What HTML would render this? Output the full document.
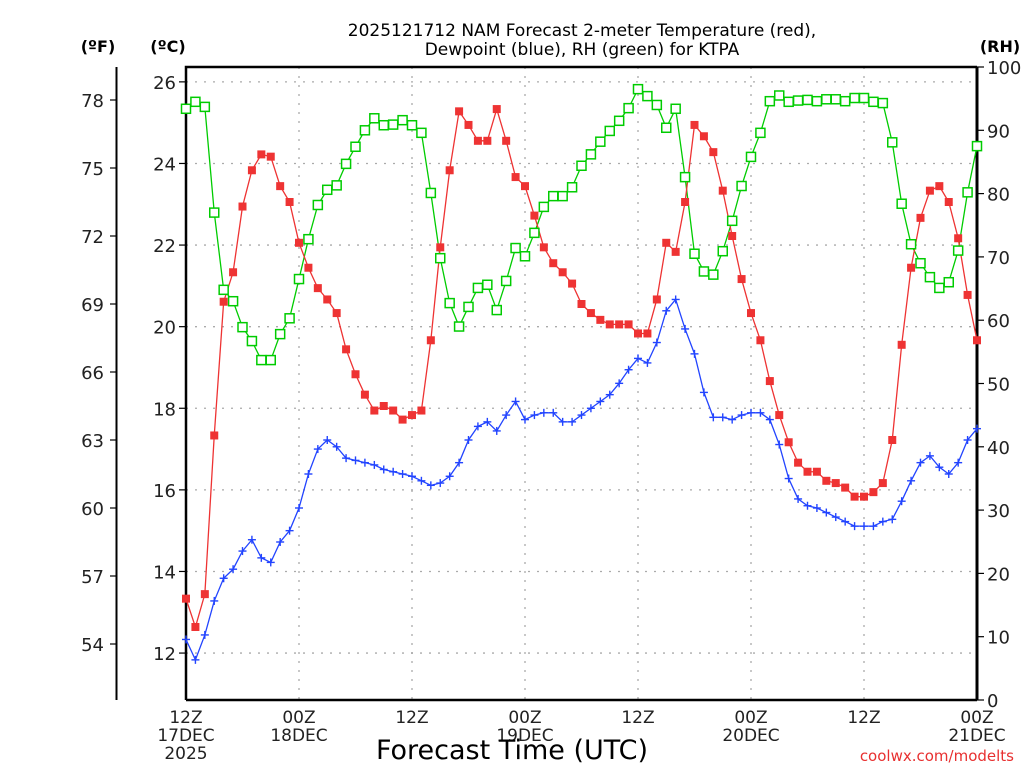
<!DOCTYPE html>
<html><head><meta charset="utf-8"><style>
html,body{margin:0;padding:0;background:#fff;}
svg{display:block;font-family:"DejaVu Sans","Liberation Sans",sans-serif;}
</style></head><body>
<svg id="chart" width="1024" height="768" viewBox="0 0 1024 768" xmlns="http://www.w3.org/2000/svg">
<g>
<text x="582" y="36" text-anchor="middle" font-size="17" fill="#000">2025121712 NAM Forecast 2-meter Temperature (red),</text>
<text x="582" y="55" text-anchor="middle" font-size="17" fill="#000">Dewpoint (blue), RH (green) for KTPA</text>
</g>
<text x="98" y="52" text-anchor="middle" font-size="16" font-weight="bold">(ºF)</text>
<text x="168" y="52" text-anchor="middle" font-size="16" font-weight="bold">(ºC)</text>
<text x="1000" y="52" text-anchor="middle" font-size="16" font-weight="bold">(RH)</text>
<g id="grid"></g>
<g id="axes"></g>
<g id="series"></g>
<text x="512" y="759" text-anchor="middle" font-size="27" fill="#000">Forecast Time (UTC)</text>
<text x="1014" y="761" text-anchor="end" font-size="15" fill="#e83030">coolwx.com/modelts</text>
</svg>
<script>
const tempF = [56.0,54.75,56.2,63.2,69.1,70.4,73.3,74.9,75.6,75.5,74.2,73.5,71.7,70.6,69.7,69.2,68.6,67.0,65.9,65.0,64.3,64.5,64.3,63.9,64.1,64.3,67.4,71.5,74.9,
77.5,76.9,76.2,76.2,77.6,76.2,74.6,74.2,72.9,71.5,70.8,70.4,69.9,69.0,68.6,68.3,68.1,68.1,68.1,67.7,67.7,69.2,71.7,71.3,73.5,76.9,76.4,
75.7,74.0,72.0,70.1,68.6,67.4,65.6,64.1,62.9,62.0,61.6,61.6,61.2,61.1,60.9,60.5,60.5,60.7,61.1,63.0,67.2,70.6,72.8,74.0,74.2,73.5,71.9,69.4,67.4];
const dewF = [54.2,53.3,54.4,55.9,56.9,57.3,58.1,58.6,57.8,57.6,58.5,59.0,60.0,61.5,62.6,63.0,62.7,62.2,62.1,62.0,61.9,61.7,61.6,61.5,61.4,61.2,61.0,61.1,61.4,
62.0,63.0,63.6,63.8,63.4,64.1,64.7,63.9,64.1,64.2,64.2,63.8,63.8,64.1,64.4,64.7,65.0,65.5,66.1,66.6,66.4,67.3,68.7,69.2,67.9,66.8,65.1,
64.0,64.0,63.9,64.1,64.2,64.2,63.9,62.8,61.3,60.4,60.1,60.0,59.8,59.6,59.4,59.2,59.2,59.2,59.4,59.5,60.3,61.2,62.0,62.3,61.8,61.5,62.0,63.0,63.5];
const rh = [93.4,94.5,93.7,77.0,64.8,63.0,58.9,56.7,53.7,53.7,57.8,60.3,66.5,72.8,78.2,80.6,81.3,84.7,87.4,90.0,91.9,90.8,90.9,91.6,90.8,89.6,80.1,69.8,62.7,
59.0,62.1,65.1,65.6,61.6,66.2,71.4,70.1,73.8,77.9,79.6,79.6,81.0,84.4,86.2,88.2,89.9,91.5,93.5,96.5,95.4,94.0,90.4,93.4,82.6,70.5,67.7,
67.2,70.9,75.7,81.2,85.8,89.6,94.6,95.5,94.5,94.7,94.8,94.6,94.9,94.9,94.6,95.1,95.1,94.5,94.3,88.1,78.4,72.0,69.0,66.8,65.1,66.0,71.0,80.2,87.5];
const fTicks = [54,57,60,63,66,69,72,75,78];
const cTicks = [12,14,16,18,20,22,24,26];
const rhTicks = [0,10,20,30,40,50,60,70,80,90,100];
const xTickHours = [0,12,24,36,48,60,72,84];
const xTickLabels = [["12Z","17DEC","2025"],["00Z","18DEC"],["12Z"],["00Z","19DEC"],["12Z"],["00Z","20DEC"],["12Z"],["00Z","21DEC"]];

const NS="http://www.w3.org/2000/svg";
const L=186,R=977,T=67,B=700,HOURS=84;
const xS=h=>L+(R-L)*h/HOURS;
const yF=f=>100+(78-f)*(544/24);
const yC=c=>yF(c*9/5+32);
const yRH=v=>B-(B-T)*v/100;
function mk(tag,attrs,parent){const e=document.createElementNS(NS,tag);for(const k in attrs)e.setAttribute(k,attrs[k]);parent.appendChild(e);return e;}
const grid=document.getElementById('grid'),axes=document.getElementById('axes'),series=document.getElementById('series');

cTicks.forEach(c=>{const y=yC(c);
 const g=mk('line',{x1:L,x2:R,y1:y,y2:y,stroke:'#aaa','stroke-width':1.3,'stroke-dasharray':'2 7'},grid);
 
 
 mk('line',{x1:L-7,x2:L,y1:y,y2:y,stroke:'#000','stroke-width':1.2},axes);
 const t=mk('text',{x:L-10,y:y+7,'text-anchor':'end','font-size':18,fill:'#222'},axes);t.textContent=c;
 
 
});
xTickHours.forEach((h,i)=>{const x=xS(h);
 if(i>0&&i<xTickHours.length-1){const g=mk('line',{x1:x,x2:x,y1:T,y2:B,stroke:'#aaa','stroke-width':1.3,'stroke-dasharray':'2 7'},grid);
 
 }
 xTickLabels[i].forEach((s,j)=>{const t=mk('text',{x:x,y:723+j*18,'text-anchor':'middle','font-size':17,fill:'#222'},axes);t.textContent=s;
 
 });
});
fTicks.forEach(f=>{const y=yF(f);
 mk('line',{x1:110,x2:117,y1:y,y2:y,stroke:'#000','stroke-width':1.2},axes);
 const t=mk('text',{x:104,y:y+7,'text-anchor':'end','font-size':18,fill:'#222'},axes);t.textContent=f;
 
 
});
rhTicks.forEach(v=>{const y=yRH(v);
 mk('line',{x1:R,x2:R+7,y1:y,y2:y,stroke:'#000','stroke-width':1.2},axes);
 const t=mk('text',{x:R+10,y:y+7,'text-anchor':'start','font-size':18,fill:'#222'},axes);t.textContent=v;
 
 
});
mk('line',{x1:116.5,x2:116.5,y1:67,y2:700,stroke:'#000','stroke-width':2},axes);
const frame=mk('path',{d:`M${L} ${B}V${T}H${R}`,fill:'none',stroke:'#000','stroke-width':2.5},axes);
mk('line',{x1:L,x2:R,y1:B,y2:B,stroke:'#000','stroke-width':2.5},axes);
mk('line',{x1:R,x2:R,y1:T,y2:B,stroke:'#000','stroke-width':3},axes);

function line(vals,yfn,color,name){
 const p=mk('polyline',{points:vals.map((v,i)=>xS(i)+','+yfn(v)).join(' '),fill:'none',stroke:color,'stroke-width':1.3},series);
 
 
}
line(rh,yRH,'#00cc00','rh-line');
line(dewF,yF,'#2244ff','dewpoint-line');
line(tempF,yF,'#ee3333','temperature-line');
const gm=mk('g',{},series);


rh.forEach((v,i)=>mk('rect',{x:xS(i)-4.5,y:yRH(v)-4.5,width:9,height:9,fill:'#fff',stroke:'#00cc00','stroke-width':1.5},gm));
const bm=mk('g',{stroke:'#2244ff','stroke-width':1.4},series);


dewF.forEach((v,i)=>{const x=xS(i),y=yF(v);mk('line',{x1:x-4,x2:x+4,y1:y,y2:y},bm);mk('line',{x1:x,x2:x,y1:y-4,y2:y+4},bm);});
const rm=mk('g',{fill:'#ee3333'},series);


tempF.forEach((v,i)=>mk('rect',{x:xS(i)-4,y:yF(v)-4,width:8,height:8},rm));
</script>
</body></html>
